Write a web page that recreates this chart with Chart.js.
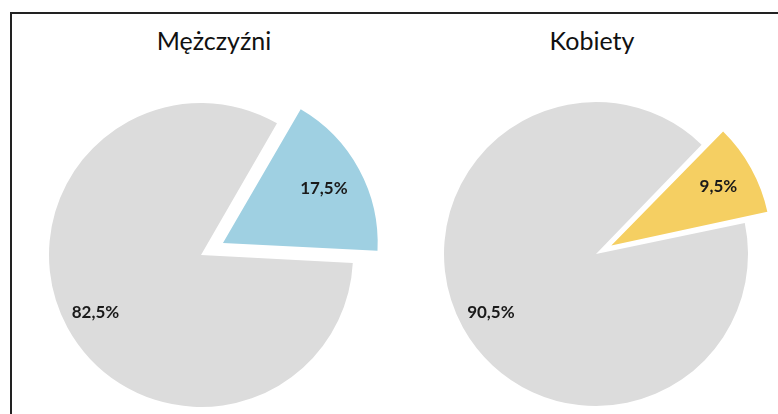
<!DOCTYPE html>
<html>
<head>
<meta charset="utf-8">
<script src="https://cdn.jsdelivr.net/npm/chart.js@4/dist/chart.umd.min.js"></script>
<style>
  html, body { margin: 0; padding: 0; background: #fff; overflow: hidden; }
  body { width: 778px; height: 414px; position: relative; font-family: Lato, "Open Sans", sans-serif; }
  .frame { position: absolute; left: 10px; top: 12px; width: 800px; height: 450px;
           border-top: 2px solid #222; border-left: 2px solid #222; }
  .title { position: absolute; top: 25px; font-size: 25px; color: #111; transform: translateX(-50%); white-space: nowrap; }
  canvas { position: absolute; }
</style>
</head>
<body>
<div class="frame"></div>
<div class="title" style="left:214px">Mężczyźni</div>
<div class="title" style="left:592px">Kobiety</div>
<canvas id="menChart" width="380" height="380" style="left:11px;top:65px;width:380px;height:380px"></canvas>
<canvas id="womenChart" width="380" height="380" style="left:406px;top:64px;width:380px;height:380px"></canvas>
<script>
// chart data
const categories = ['Tak', 'Nie'];
const menValues = [17.5, 82.5];
const womenValues = [9.5, 90.5];
const menColors = ['#9fd0e2', '#dcdcdc'];
const womenColors = ['#f5cf62', '#dcdcdc'];

// draw percentage labels inside each slice
const sliceLabels = {
  id: 'sliceLabels',
  afterDatasetsDraw(chart) {
    const ctx = chart.ctx;
    const meta = chart.getDatasetMeta(0);
    const values = chart.data.datasets[0].data;
    ctx.save();
    ctx.font = 'bold 17px Lato, "Open Sans", sans-serif';
    ctx.fillStyle = '#1a1a1a';
    ctx.textAlign = 'center';
    ctx.textBaseline = 'middle';
    meta.data.forEach(function (arc, i) {
      const p = arc.getProps(['x', 'y', 'startAngle', 'endAngle', 'outerRadius']);
      const mid = (p.startAngle + p.endAngle) / 2;
      const r = p.outerRadius * (values[i] < 50 ? 0.92 : 0.79);
      const text = values[i].toFixed(1).replace('.', ',') + '%';
      ctx.fillText(text, p.x + Math.cos(mid) * r, p.y + Math.sin(mid) * r);
    });
    ctx.restore();
  }
};

function makePie(id, values, colors, rotation, offset) {
  const el = document.getElementById(id);
  return new Chart(el, {
    type: 'pie',
    data: {
      labels: categories,
      datasets: [{
        data: values,
        backgroundColor: colors,
        borderWidth: 0,
        offset: [offset, 0]
      }]
    },
    options: {
      responsive: false,
      animation: false,
      radius: 152,
      rotation: rotation,
      plugins: {
        legend: { display: false },
        tooltip: { enabled: false }
      }
    },
    plugins: [sliceLabels]
  });
}

document.addEventListener('DOMContentLoaded', function () {
  // arc offset is scaled down by Chart.js, so these give roughly 28px and 25px
  makePie('menChart', menValues, menColors, 30, 100);
  makePie('womenChart', womenValues, womenColors, 44, 70);
});
</script>
</body>
</html>
